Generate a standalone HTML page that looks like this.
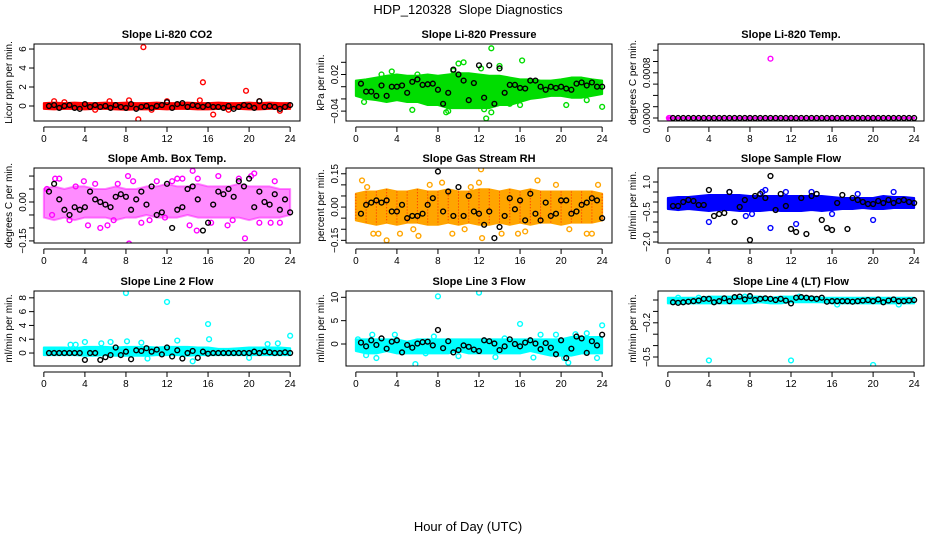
<!DOCTYPE html>
<html><head><meta charset="utf-8"><style>
body{margin:0;background:#fff}
svg{display:block;font-family:"Liberation Sans",sans-serif}
</style></head><body>
<svg id="chart" width="936" height="540" viewBox="0 0 936 540" xmlns="http://www.w3.org/2000/svg">
<text x="468" y="14" text-anchor="middle" font-size="13" style="white-space:pre">HDP_120328  Slope Diagnostics</text>
<text x="468" y="531" text-anchor="middle" font-size="13">Hour of Day (UTC)</text>
</svg>
<script>
const xTicks=[0,4,8,12,16,20,24];
const bandHours=[0,1,2,3,4,5,6,7,8,9,10,11,12,13,14,15,16,17,18,19,20,21,22,23,24];
const blackHours=[0.5,1,1.5,2,2.5,3,3.5,4,4.5,5,5.5,6,6.5,7,7.5,8,8.5,9,9.5,10,10.5,11,11.5,12,12.5,13,13.5,14,14.5,15,15.5,16,16.5,17,17.5,18,18.5,19,19.5,20,20.5,21,21.5,22,22.5,23,23.5,24];

const co2Lo=[-0.3,-0.35,-0.3,-0.3,-0.35,-0.3,-0.3,-0.35,-0.4,-0.35,-0.35,-0.3,-0.35,-0.3,-0.3,-0.35,-0.35,-0.3,-0.3,-0.3,-0.35,-0.35,-0.3,-0.3,-0.3];
const co2Hi=[0.3,0.35,0.3,0.35,0.3,0.3,0.35,0.3,0.35,0.3,0.3,0.35,0.3,0.3,0.35,0.3,0.3,0.35,0.3,0.3,0.35,0.3,0.35,0.3,0.3];
const co2ScX=[9.7,15.5,19.7,9.2,16.5,8.3,6.4,2,12,15.2,21,23,5,10.5,1,18];
const co2ScY=[6.2,2.5,1.6,-1.4,-0.9,0.6,0.5,0.4,0.5,0.6,0.5,-0.5,-0.4,-0.4,0.5,-0.4];
const co2Black=[0,0.1,-0.2,0,0.1,-0.2,-0.3,0.2,-0.1,0.1,-0.1,0,-0.2,0.1,-0.1,-0.2,0.2,-0.3,-0.1,0,-0.2,0,0.1,0.4,-0.2,0.2,0.3,-0.1,0.1,0,-0.1,0.1,-0.1,-0.1,-0.2,0,-0.3,-0.1,0.1,0,-0.2,0.5,-0.1,0,-0.1,-0.3,-0.1,0.1];

const presLo=[-0.015,-0.02,-0.022,-0.025,-0.022,-0.025,-0.025,-0.03,-0.03,-0.035,-0.035,-0.035,-0.035,-0.035,-0.03,-0.03,-0.025,-0.02,-0.018,-0.015,-0.015,-0.018,-0.018,-0.015,-0.012];
const presHi=[0.01,0.012,0.015,0.018,0.02,0.018,0.018,0.02,0.018,0.02,0.022,0.022,0.02,0.018,0.018,0.015,0.012,0.012,0.01,0.01,0.012,0.015,0.015,0.012,0.01];
const presScX=[13.2,12.7,12.5,13.2,16.2,10.5,10,9.5,14,5.5,0.8,24,16,20.5,7.8,3.5,6,11.5,9,15,2.5,22.5,8.8,12.2];
const presScY=[0.063,-0.052,-0.037,-0.042,0.043,0.04,0.038,0.026,0.034,-0.038,-0.025,-0.033,-0.03,-0.03,-0.022,0.025,0.02,-0.03,-0.04,-0.028,0.02,-0.022,-0.042,0.03];
const presBlack=[0.005,-0.008,-0.008,-0.015,0.002,-0.015,0,0,0.002,-0.01,0.008,0.012,0.003,0.004,0.005,-0.005,-0.028,-0.01,0.028,0.02,0.01,-0.022,0.006,0.035,-0.018,0.035,-0.028,0.03,-0.01,0.003,0.003,-0.002,-0.003,0.01,0.01,0,-0.005,0,-0.002,0,-0.003,-0.005,0.005,0.007,0.002,0.007,0,0];

const tempLo=[-0.000005,-0.000005,-0.000005,-0.000005,-0.000005,-0.000005,-0.000005,-0.000005,-0.000005,-0.000005,-0.000005,-0.000005,-0.000005,-0.000005,-0.000005,-0.000005,-0.000005,-0.000005,-0.000005,-0.000005,-0.000005,-0.000005,-0.000005,-0.000005,-0.000005];
const tempHi=[0.000005,0.000005,0.000005,0.000005,0.000005,0.000005,0.000005,0.000005,0.000005,0.000005,0.000005,0.000005,0.000005,0.000005,0.000005,0.000005,0.000005,0.000005,0.000005,0.000005,0.000005,0.000005,0.000005,0.000005,0.000005];
const tempScX=[10,0.1,0.2,8,12,16,20];
const tempScY=[0.00105,0,0,0,0,0,0];
const tempBlack=[0,0,0,0,0,0,0,0,0,0,0,0,0,0,0,0,0,0,0,0,0,0,0,0,0,0,0,0,0,0,0,0,0,0,0,0,0,0,0,0,0,0,0,0,0,0,0,0];

const ambLo=[-0.06,-0.07,-0.06,-0.07,-0.06,-0.06,-0.06,-0.07,-0.06,-0.06,-0.05,-0.06,-0.06,-0.06,-0.05,-0.06,-0.06,-0.06,-0.06,-0.06,-0.07,-0.06,-0.06,-0.06,-0.05];
const ambHi=[0.05,0.06,0.05,0.06,0.06,0.05,0.05,0.06,0.05,0.05,0.06,0.06,0.07,0.06,0.06,0.07,0.06,0.06,0.06,0.07,0.06,0.06,0.06,0.05,0.05];
const ambScX=[4,8.3,14.9,19.6,4.3,1.1,1.5,3.9,8.2,8.7,13.5,14.5,17.9,20.5,21,13,9.5,5.5,6.2,0.3,2.5,11,15,17,22.5,23,3.1,5,10.3,12.5,16.3,19,7.2,18.4,22.1,0.8,6.8,11.8,14.2,20.2];
const ambScY=[0.17,-0.16,-0.11,-0.14,-0.09,0.09,0.09,0.08,0.1,0.08,0.09,0.12,-0.09,0.11,-0.08,0.09,-0.08,-0.1,-0.09,0.05,-0.07,0.08,0.09,0.1,0.08,-0.08,0.06,0.07,-0.07,0.08,-0.08,0.09,0.07,-0.07,-0.08,-0.05,-0.07,-0.06,-0.09,0.1];
const ambBlack=[0.04,0.07,0.01,-0.03,-0.05,-0.02,-0.03,-0.02,0.04,0.01,0,-0.01,-0.02,0.02,0.03,0.02,-0.03,0.01,0.04,-0.01,0.06,-0.05,-0.04,0.07,-0.1,-0.03,-0.02,0.05,0.06,0.01,-0.11,-0.08,-0.01,0.04,0.03,0.05,0.02,0.08,0.06,0.09,-0.02,0.04,0,-0.01,0.03,-0.03,0.01,-0.04];

const rhLo=[-0.06,-0.07,-0.08,-0.07,-0.08,-0.07,-0.07,-0.08,-0.08,-0.07,-0.08,-0.07,-0.08,-0.08,-0.07,-0.08,-0.07,-0.08,-0.07,-0.07,-0.08,-0.07,-0.07,-0.07,-0.06];
const rhHi=[0.06,0.07,0.07,0.08,0.07,0.07,0.08,0.07,0.07,0.08,0.07,0.07,0.08,0.08,0.07,0.08,0.07,0.08,0.07,0.07,0.07,0.07,0.07,0.07,0.06];
const rhScX=[0.6,3,6.1,8.4,12.2,12.3,1.7,2.2,4.3,10.6,12,17.7,23,23.6,15.8,16.5,9.4,1.1,5.6,14.2,19.5,20.8,22.5,7.2,11.2];
const rhScY=[0.12,-0.15,-0.13,0.11,0.17,-0.14,-0.12,-0.12,-0.12,-0.1,0.11,0.12,-0.12,0.1,-0.12,-0.11,-0.12,0.09,-0.1,-0.12,0.1,-0.1,-0.12,0.1,0.09];
const rhBlack=[-0.03,0.01,0.02,0.03,0.02,0.03,-0.02,-0.02,0.01,-0.05,-0.04,-0.04,-0.03,0.01,0.04,0.16,-0.02,0.07,-0.04,0.09,-0.04,0.05,-0.02,-0.03,-0.08,-0.02,-0.14,-0.09,-0.04,0.04,-0.01,0.03,-0.06,0.06,-0.03,-0.06,0.02,-0.04,-0.03,0.03,0.03,-0.03,-0.02,0.01,0.02,0.04,0.03,-0.05];

const sfLo=[-0.35,-0.4,-0.35,-0.4,-0.45,-0.4,-0.4,-0.45,-0.45,-0.45,-0.4,-0.45,-0.45,-0.45,-0.4,-0.45,-0.4,-0.35,-0.35,-0.3,-0.35,-0.35,-0.3,-0.3,-0.3];
const sfHi=[0.2,0.25,0.25,0.3,0.35,0.35,0.35,0.35,0.3,0.3,0.3,0.3,0.3,0.3,0.3,0.3,0.25,0.2,0.2,0.2,0.2,0.3,0.25,0.25,0.2];
const sfScX=[4,10,9.5,16,8.2,12.5,20,22,1,6,9.2,11.5,14,18.5,7.6];
const sfScY=[-1.0,-1.3,0.6,-0.6,-0.6,-1.1,-0.9,0.5,-0.3,0.5,0.5,0.5,0.5,0.4,-0.7];
const sfBlack=[-0.2,-0.2,0,0.1,0.05,-0.15,-0.15,0.6,-0.7,-0.6,-0.55,0.5,-1.0,-0.25,0.1,-1.9,0.3,0.4,0.2,1.3,-0.4,0.4,-0.2,-1.35,-1.5,0.2,-1.6,0.3,0.4,-0.9,-1.3,-1.4,-0.05,0.35,-1.35,0.2,0.1,0,-0.1,-0.1,0.05,-0.05,0.1,-0.05,0.05,0.1,0,-0.05];

const l2Lo=[-0.3,-0.3,-0.3,-0.3,-0.4,-0.4,-0.3,-0.4,-0.4,-0.4,-0.4,-0.3,-0.3,-0.3,-0.4,-0.3,-0.3,-0.3,-0.3,-0.3,-0.3,-0.3,-0.3,-0.3,-0.3];
const l2Hi=[0.8,0.8,0.8,0.7,0.9,0.9,0.9,0.8,0.9,0.9,0.9,0.8,0.9,0.9,0.9,0.8,0.8,0.6,0.6,0.7,0.8,0.8,0.8,0.8,0.7];
const l2ScX=[8,12,16,16.1,24,4,8.1,14.5,2.6,5.6,6.5,9.5,10.1,13,20,21.8,22.8,3.1];
const l2ScY=[8.7,7.4,4.2,2,2.5,1.6,1.7,-1.2,1.2,1.4,1.6,1.5,-0.8,1.8,-0.7,1.3,1.4,1.2];
const l2Black=[0,0,0,0,0,0,0,-1,0,0,-1,-0.6,-0.3,0.8,-0.3,0.2,-0.9,0.4,0.3,0.7,0.2,0.5,-0.2,0.8,-0.5,0.4,-0.8,0,0.3,-0.7,0.2,-0.1,0,0,0,0,0,0,0,0,0.2,0,0.2,0.1,0,0,0.1,0];

const l3Lo=[-1.5,-2,-2,-1.5,-2,-2,-2,-2,-2,-2,-1.5,-2,-2,-2,-2,-2,-2,-1.5,-2,-2.5,-2.5,-2.5,-2,-2,-2];
const l3Hi=[1,1,1,1,1,0.5,1,1,1,1,1,1,1,1,1,1,1,1,1,1,1,1.5,1.5,1.5,1.5];
const l3ScX=[8,12,16,24,5.8,20.7,1.6,2,3.8,7.6,10,13.6,18,19.5,20.3,22.5,23.5,0.2,6.8,14.5,17.3,21.4,1];
const l3ScY=[10.2,11,4.3,4,-4.3,-4,2,-3,2,1.6,-2.6,-2.8,2,2,-3,2.3,-3,1,-2,1.2,-2.9,2.1,-2.4];
const l3Black=[0.3,-0.5,0.8,-0.2,1.2,-1,0.5,0.8,-1.8,-0.2,-0.8,0.1,0.4,0.5,-0.3,3,-0.9,0.6,-1.8,-1.3,-0.3,-0.6,-1.2,-1.5,0.8,0.6,0.1,-1.3,-0.5,1,0,-0.5,0.3,0.8,0.1,-1.1,0.2,-0.8,-2.2,0.8,-3,-1,1.6,1.2,-1.9,0.6,-0.3,2];

const l4Lo=[-0.03,-0.03,-0.03,-0.03,-0.03,-0.03,-0.03,-0.03,-0.03,-0.02,-0.03,-0.03,-0.02,-0.02,-0.02,-0.02,-0.03,-0.03,-0.03,-0.03,-0.03,-0.03,-0.03,-0.03,-0.03];
const l4Hi=[0.02,0.02,0.02,0.02,0.03,0.03,0.03,0.03,0.03,0.03,0.02,0.03,0.03,0.03,0.03,0.02,0.02,0.02,0.02,0.02,0.02,0.02,0.02,0.02,0.02];
const l4ScX=[4,12,20,1,7.5,8,12.8,22.5,16.5,3];
const l4ScY=[-0.53,-0.53,-0.57,0.02,0.03,0.03,0.03,-0.04,-0.04,0.02];
const l4Black=[-0.02,-0.025,-0.02,-0.015,-0.01,-0.005,0.01,0.01,-0.02,-0.01,0.015,-0.01,0.025,0.03,0.005,0.035,0,0.01,0.015,0.01,0,0.01,-0.005,-0.03,0.02,0.025,0.02,0.015,0.01,0.02,-0.015,-0.01,-0.01,-0.01,-0.01,-0.015,-0.01,-0.005,0,-0.01,0.005,-0.02,-0.005,0.005,-0.01,-0.01,-0.005,0];

const cols=[[34,300],[346,612],[658,924]];
const rows=[[44,121],[168,243],[291,366]];
const panels=[
 {t:"Slope Li-820 CO2",yl:"Licor ppm per min.",r:0,c:0,y0:-1.58,y1:6.53,tk:[0,2,4,6],lb:["0","2","4","6"],col:"#ff0000",lo:co2Lo,hi:co2Hi,sx:co2ScX,sy:co2ScY,bk:co2Black},
 {t:"Slope Li-820 Pressure",yl:"kPa per min.",r:0,c:1,y0:-0.0562,y1:0.070,tk:[-0.04,-0.02,0,0.02,0.04],lb:["−0.04","","","0.02",""],col:"#00dd00",lo:presLo,hi:presHi,sx:presScX,sy:presScY,bk:presBlack},
 {t:"Slope Li-820 Temp.",yl:"degrees C per min.",r:0,c:2,y0:-0.000053,y1:0.00131,tk:[0,0.0002,0.0004,0.0006,0.0008,0.001,0.0012],lb:["0.0000","","","","0.0008","",""],col:"#ff00ff",lo:tempLo,hi:tempHi,sx:tempScX,sy:tempScY,bk:tempBlack},
 {t:"Slope Amb. Box Temp.",yl:"degrees C per min.",r:1,c:0,y0:-0.158,y1:0.131,tk:[-0.15,-0.1,-0.05,0,0.05,0.1],lb:["−0.15","","","0.00","",""],col:"#ff00ff",lo:ambLo,hi:ambHi,sx:ambScX,sy:ambScY,bk:ambBlack,op:0.45},
 {t:"Slope Gas Stream RH",yl:"percent per min.",r:1,c:1,y0:-0.162,y1:0.176,tk:[-0.15,-0.1,-0.05,0,0.05,0.1,0.15],lb:["−0.15","","","0.00","","","0.15"],col:"#ffa500",lo:rhLo,hi:rhHi,sx:rhScX,sy:rhScY,bk:rhBlack,sp:"#ff2000"},
 {t:"Slope Sample Flow",yl:"ml/min per min.",r:1,c:2,y0:-2.05,y1:1.7,tk:[-2,-1.5,-1,-0.5,0,0.5,1],lb:["−2.0","","","−0.5","","","1.0"],col:"#0000ff",lo:sfLo,hi:sfHi,sx:sfScX,sy:sfScY,bk:sfBlack},
 {t:"Slope Line 2 Flow",yl:"ml/min per min.",r:2,c:0,y0:-1.88,y1:8.99,tk:[0,2,4,6,8],lb:["0","2","4","6","8"],col:"#00ffff",lo:l2Lo,hi:l2Hi,sx:l2ScX,sy:l2ScY,bk:l2Black},
 {t:"Slope Line 3 Flow",yl:"ml/min per min.",r:2,c:1,y0:-4.71,y1:11.35,tk:[0,5,10],lb:["0","5","10"],col:"#00ffff",lo:l3Lo,hi:l3Hi,sx:l3ScX,sy:l3ScY,bk:l3Black},
 {t:"Slope Line 4 (LT) Flow",yl:"ml/min per min.",r:2,c:2,y0:-0.579,y1:0.079,tk:[-0.5,-0.4,-0.3,-0.2,-0.1,0],lb:["−0.5","","","−0.2","",""],col:"#00ffff",lo:l4Lo,hi:l4Hi,sx:l4ScX,sy:l4ScY,bk:l4Black}
];
const NS="http://www.w3.org/2000/svg";
const svg=document.getElementById('chart');
function mk(tag,attrs,parent){const e=document.createElementNS(NS,tag);for(const k in attrs)e.setAttribute(k,attrs[k]);parent.appendChild(e);return e;}
panels.forEach((p,i)=>{
 const L=cols[p.c][0],R=cols[p.c][1],T=rows[p.r][0],B=rows[p.r][1];
 const xs=h=>L+(h+0.96)/25.92*(R-L);
 const ys=v=>B-(v-p.y0)/(p.y1-p.y0)*(B-T);
 const g=mk('g',{},svg);
 
 
 const cp=mk('clipPath',{id:'cp'+i},g);
 mk('rect',{x:L,y:T,width:R-L,height:B-T},cp);
 const tt=mk('text',{x:(L+R)/2,y:T-6,'text-anchor':'middle','font-size':'11','font-weight':'bold'},g);
 tt.textContent=p.t;
 
 
 const yl=mk('text',{x:0,y:0,'text-anchor':'middle','font-size':'10',transform:`translate(${L-22},${(T+B)/2}) rotate(-90)`},g);
 yl.textContent=p.yl;
 
 
 const plot=mk('g',{'clip-path':`url(#cp${i})`},g);
 let pts=bandHours.map((h,k)=>xs(h)+','+ys(p.hi[k]));
 pts=pts.concat(bandHours.slice().reverse().map((h,k)=>xs(h)+','+ys(p.lo[bandHours.length-1-k])));
 const band=mk('polygon',{points:pts.join(' '),fill:p.col,'fill-opacity':p.op||1,stroke:p.col,'stroke-opacity':p.op||1,'stroke-width':2,'stroke-linejoin':'round'},plot);
 
 
 if(p.sp){bandHours.forEach((h,k)=>{const m=mk('line',{x1:xs(h),x2:xs(h),y1:ys(p.hi[k]),y2:ys(p.lo[k]),stroke:p.sp,'stroke-width':1,'stroke-dasharray':'1 2'},plot);
  
  });}
 p.sx.forEach((h,k)=>{const c=mk('circle',{cx:xs(h),cy:ys(p.sy[k]),r:2.4,fill:'none',stroke:p.col,'stroke-width':1.4},plot);
  
  });
 blackHours.forEach((h,k)=>{if(k>=p.bk.length)return;const c=mk('circle',{cx:xs(h),cy:ys(p.bk[k]),r:2.4,fill:'none',stroke:'#000','stroke-width':1.4},plot);
  
  });
 const box=mk('rect',{x:L,y:T,width:R-L,height:B-T,fill:'none',stroke:'#000','stroke-width':1},g);
 
 
 const ay=B+6;
 mk('line',{x1:xs(0),x2:xs(24),y1:ay,y2:ay,stroke:'#000'},g);
 xTicks.forEach(h=>{mk('line',{x1:xs(h),x2:xs(h),y1:ay,y2:ay+5,stroke:'#000'},g);
  const t=mk('text',{x:xs(h),y:ay+15,'text-anchor':'middle','font-size':'10'},g);t.textContent=h;
  
  });
 p.tk.forEach((v,k)=>{const y=ys(v);mk('line',{x1:L-5,x2:L,y1:y,y2:y,stroke:'#000'},g);
  if(p.lb[k]){const t=mk('text',{x:0,y:0,'text-anchor':'middle','font-size':'10',transform:`translate(${L-8},${y}) rotate(-90)`},g);t.textContent=p.lb[k];
  
  }});
});
</script>
</body></html>
